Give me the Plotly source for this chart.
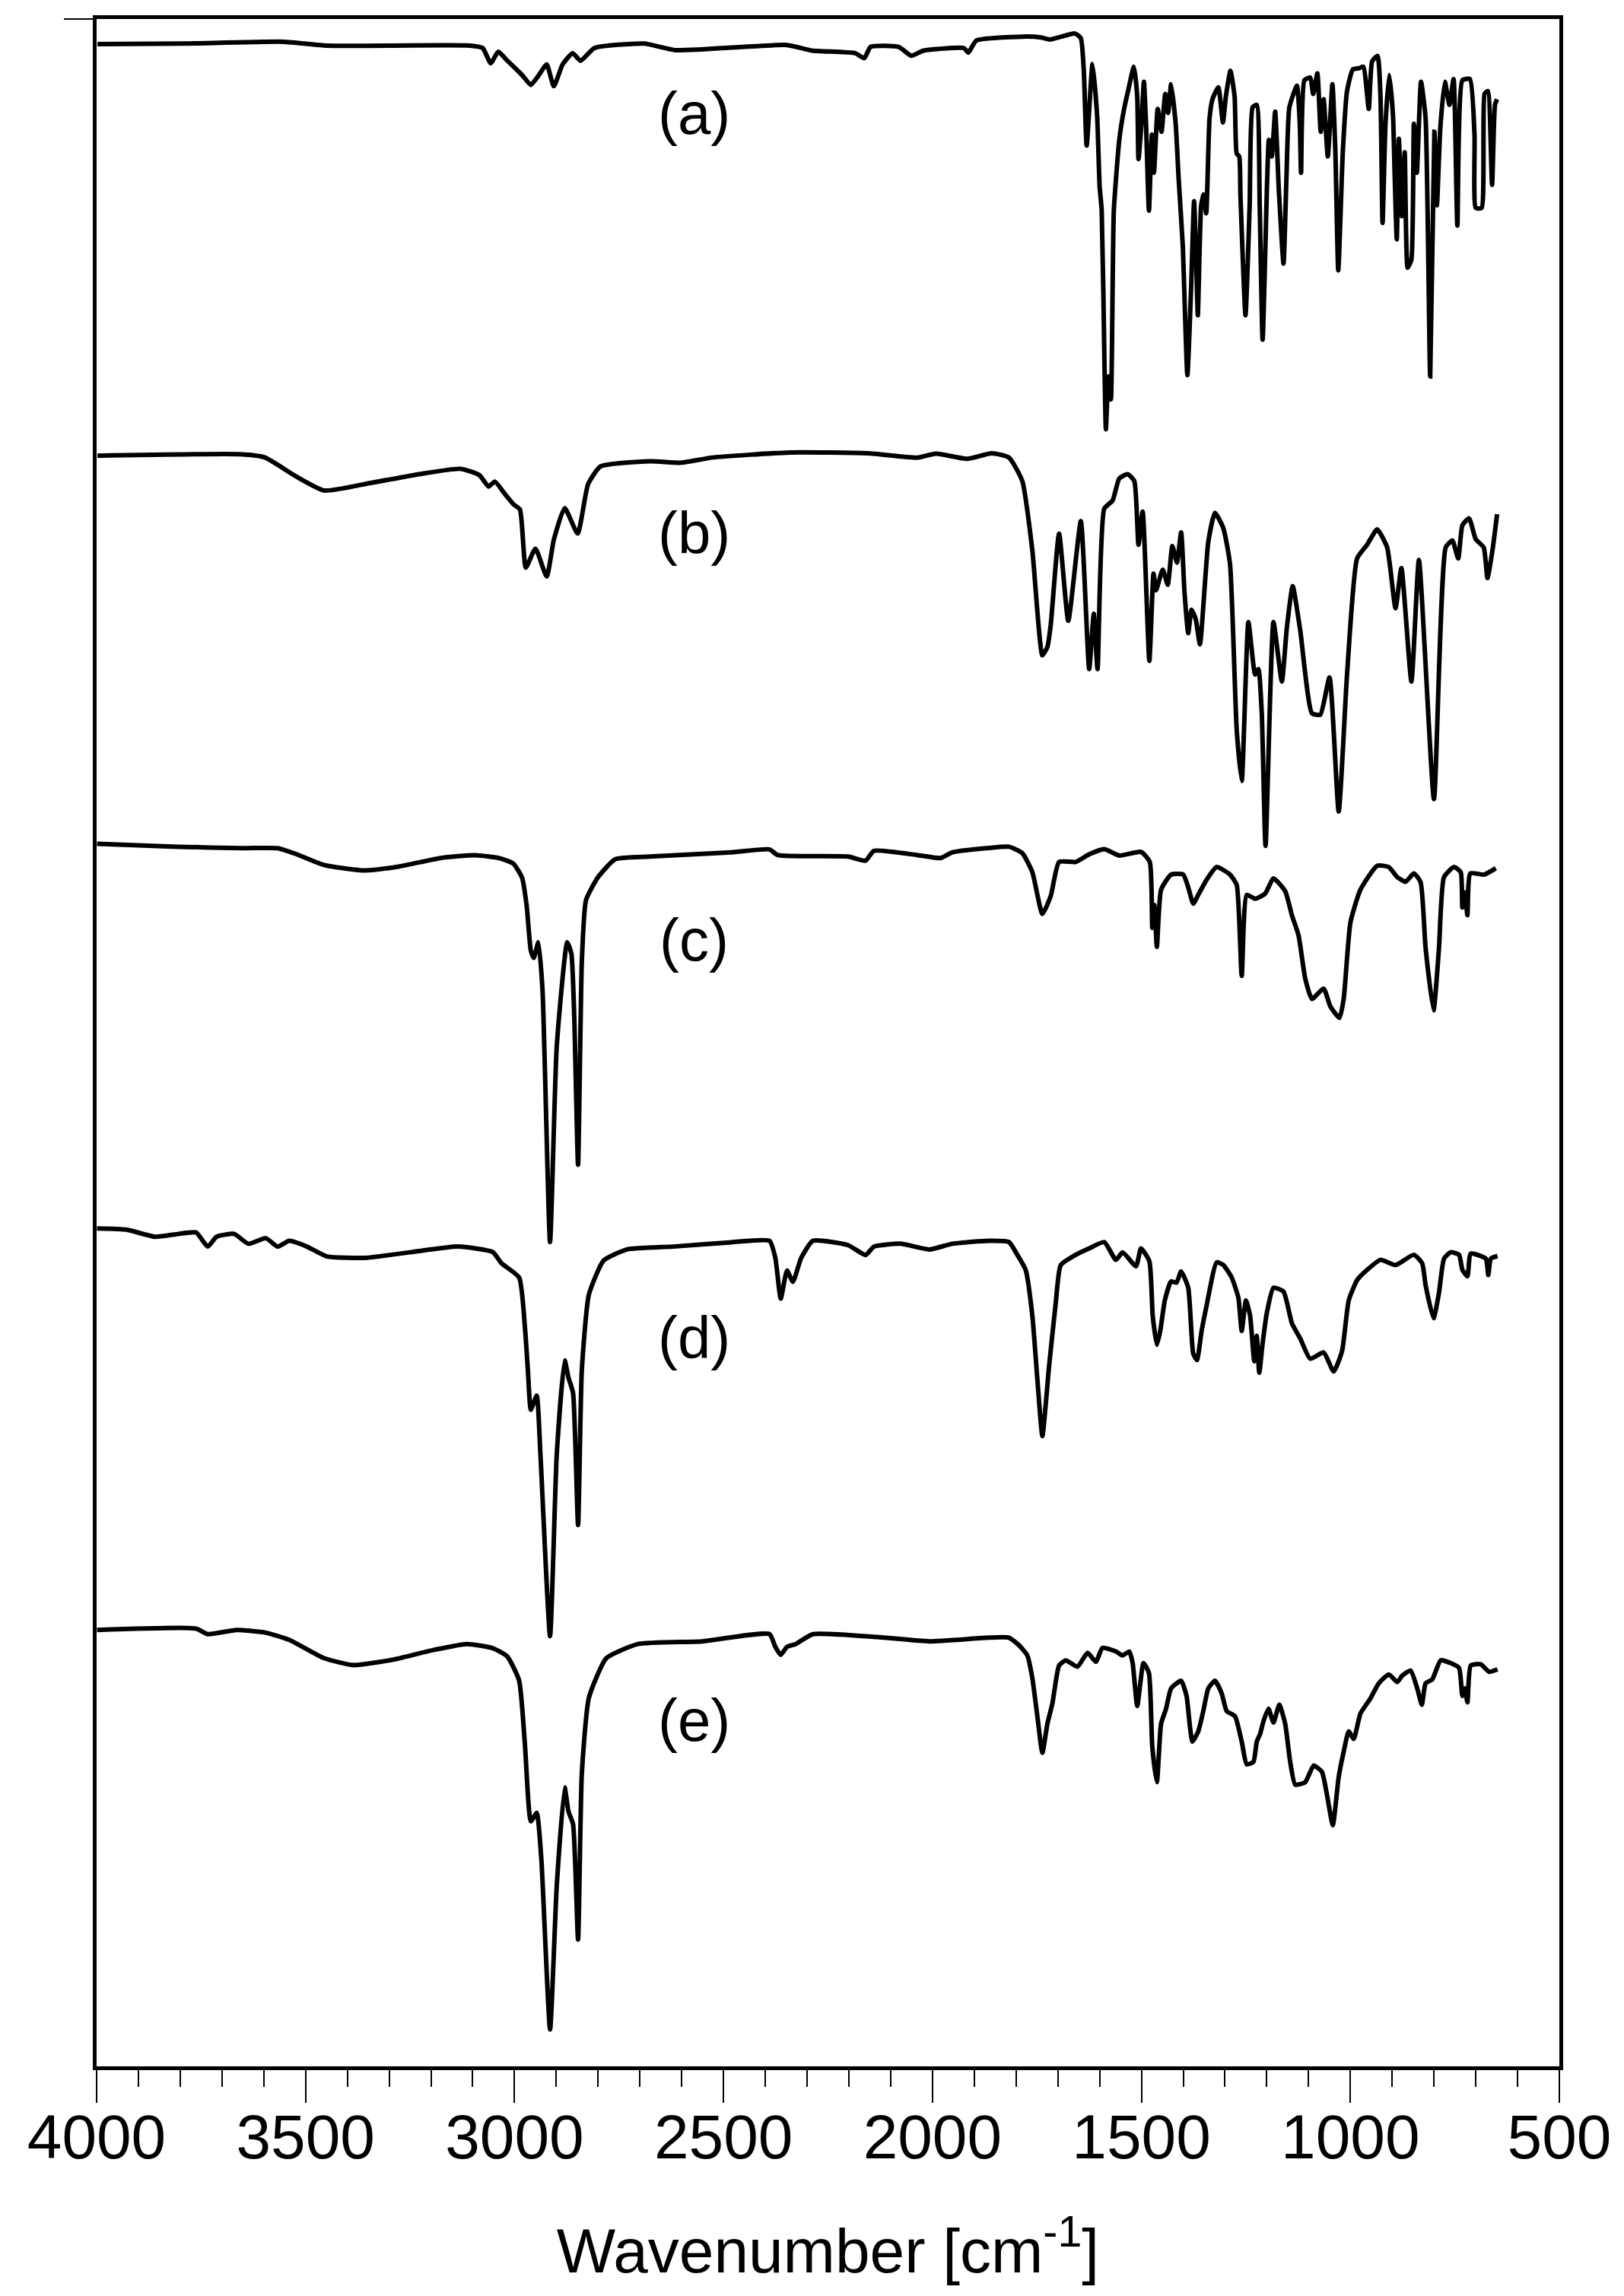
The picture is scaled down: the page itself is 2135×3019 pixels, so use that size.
import plotly.graph_objects as go

# FTIR spectra, stacked (transmittance, offset per curve)
wn_a = [3998, 3790, 3552, 3448, 3106, 3076, 3057, 3039, 3017, 2995, 2980, 2961, 2943, 2923, 2906, 2885,
        2861, 2842, 2809, 2690, 2616, 2348, 2289, 2185, 2163, 2148, 2081, 2051, 2021, 1925, 1914, 1895,
        1784, 1740, 1719, 1659, 1645, 1638, 1631, 1617, 1606, 1600, 1595, 1588, 1585, 1579, 1573, 1566,
        1553, 1542, 1532, 1518, 1510, 1507, 1500, 1494, 1489, 1482, 1475, 1470, 1461, 1452, 1443, 1436,
        1429, 1418, 1411, 1401, 1390, 1381, 1374, 1369, 1365, 1357, 1351, 1345, 1337, 1330, 1316, 1305,
        1298, 1287, 1277, 1272, 1266, 1263, 1251, 1241, 1234, 1224, 1217, 1210, 1199, 1195, 1188, 1180,
        1171, 1160, 1153, 1146, 1128, 1121, 1118, 1110, 1096, 1089, 1079, 1071, 1064, 1054, 1043, 1036,
        1029, 1018, 1008, 994, 979, 969, 956, 948, 935, 928, 923, 916, 907, 898, 894, 889,
        884, 877, 870, 863, 854, 848, 841, 831, 820, 809, 799, 793, 785, 774, 763, 753,
        744, 732, 714, 703, 700, 686, 679, 671, 661, 654, 649]
t_a = [98.77, 98.80, 98.89, 98.70, 98.70, 98.58, 97.84, 98.40, 97.96, 97.53, 97.22, 96.78, 97.22, 97.78, 96.72, 97.78,
       98.33, 97.96, 98.58, 98.80, 98.48, 98.73, 98.46, 98.33, 98.09, 98.64, 98.64, 98.21, 98.46, 98.58, 98.36, 98.95,
       99.14, 99.10, 99.00, 99.29, 99.06, 97.54, 93.82, 97.80, 95.28, 91.83, 90.64, 82.68, 79.96, 82.54, 81.42, 90.64,
       94.09, 95.55, 96.48, 97.67, 96.21, 93.16, 94.88, 96.94, 94.88, 90.64, 94.35, 92.49, 95.61, 94.49, 96.34, 95.41,
       96.81, 94.88, 92.23, 88.91, 82.61, 86.92, 91.10, 88.25, 85.53, 90.90, 91.43, 90.51, 95.15, 96.08, 96.67, 94.95,
       96.21, 97.47, 96.21, 93.42, 93.29, 91.37, 85.53, 90.90, 95.68, 95.81, 90.90, 84.34, 92.23, 94.09, 93.29, 95.48,
       91.57, 88.05, 92.23, 95.68, 96.74, 94.88, 92.49, 97.01, 97.14, 96.34, 97.34, 94.49, 96.08, 93.29, 96.81, 93.56,
       87.72, 93.56, 96.48, 97.54, 97.60, 97.67, 95.61, 97.93, 98.20, 96.21, 90.04, 94.88, 97.27, 95.28, 92.36, 89.24,
       94.15, 90.37, 93.49, 87.85, 88.25, 94.88, 92.49, 96.94, 95.15, 82.54, 94.49, 90.90, 94.62, 96.94, 95.81, 97.07,
       89.91, 97.01, 97.07, 94.35, 90.77, 90.77, 96.34, 96.48, 91.90, 95.81, 96.08]

wn_b = [3998, 3656, 3597, 3522, 3455, 3344, 3225, 3129, 3084, 3062, 3047, 3025, 3002, 2987, 2973, 2950,
        2923, 2906, 2880, 2849, 2824, 2794, 2675, 2601, 2527, 2341, 2155, 2036, 1992, 1917, 1858, 1817,
        1785, 1761, 1737, 1725, 1717, 1697, 1675, 1645, 1625, 1614, 1605, 1589, 1569, 1553, 1533, 1517,
        1507, 1497, 1481, 1471, 1465, 1449, 1437, 1426, 1415, 1405, 1397, 1388, 1380, 1370, 1360, 1340,
        1324, 1304, 1288, 1272, 1260, 1244, 1228, 1220, 1212, 1203, 1184, 1164, 1152, 1138, 1120, 1092,
        1072, 1050, 1028, 1008, 984, 960, 936, 912, 892, 878, 854, 836, 800, 772, 756, 742,
        732, 716, 700, 681, 672, 660, 649]
t_b = [78.67, 78.74, 78.58, 77.65, 76.97, 77.34, 77.78, 78.03, 77.72, 77.16, 77.41, 76.85, 76.29, 76.04, 73.20, 74.13,
       72.77, 74.56, 76.11, 74.87, 77.28, 78.15, 78.40, 78.33, 78.58, 78.83, 78.79, 78.58, 78.77, 78.52, 78.79, 78.58,
       77.43, 74.05, 68.92, 69.33, 70.41, 74.86, 70.61, 75.47, 68.25, 70.95, 68.25, 76.08, 76.48, 77.56, 77.77, 77.43,
       74.32, 75.94, 68.65, 72.91, 72.10, 73.11, 72.37, 74.26, 73.45, 74.93, 72.03, 70.00, 71.15, 70.68, 69.46, 74.46,
       75.88, 75.13, 73.38, 65.28, 62.78, 70.54, 67.98, 68.25, 66.09, 59.61, 70.54, 67.64, 70.27, 72.30, 70.14, 66.09,
       66.02, 67.84, 61.29, 67.98, 73.65, 74.32, 75.07, 74.19, 71.22, 73.18, 67.64, 73.58, 61.90, 74.19, 74.53, 73.65,
       75.27, 75.61, 74.59, 74.19, 72.70, 74.05, 75.81]

wn_c = [3999, 3804, 3651, 3567, 3525, 3456, 3358, 3275, 3177, 3094, 3038, 3003, 2982, 2971, 2961, 2954,
        2943, 2933, 2915, 2899, 2874, 2864, 2857, 2848, 2839, 2829, 2801, 2759, 2676, 2481, 2390, 2370,
        2202, 2160, 2140, 2035, 1980, 1952, 1865, 1817, 1785, 1761, 1737, 1717, 1697, 1657, 1625, 1589,
        1553, 1501, 1480, 1474, 1469, 1463, 1453, 1429, 1400, 1388, 1376, 1364, 1344, 1320, 1288, 1272,
        1260, 1248, 1228, 1204, 1184, 1156, 1140, 1124, 1108, 1092, 1064, 1048, 1026, 1016, 1000, 976,
        936, 908, 888, 868, 848, 832, 820, 801, 788, 776, 752, 736, 732, 726, 720, 713,
        680, 652]
t_c = [59.71, 59.57, 59.50, 59.50, 59.23, 58.68, 58.41, 58.61, 59.02, 59.16, 59.02, 58.75, 58.06, 56.69, 54.49, 54.14,
       54.90, 52.56, 40.26, 49.82, 54.90, 54.35, 51.19, 44.04, 53.94, 56.96, 58.06, 58.96, 59.09, 59.30, 59.44, 59.16,
       59.09, 58.89, 59.37, 59.16, 59.02, 59.30, 59.51, 59.57, 59.26, 58.33, 56.29, 57.16, 58.83, 58.83, 59.20, 59.45,
       59.14, 59.32, 58.83, 55.61, 56.72, 54.68, 57.47, 58.21, 58.21, 57.59, 56.79, 57.22, 57.96, 58.58, 58.21, 57.71,
       53.26, 57.22, 57.03, 57.28, 58.02, 57.40, 56.23, 55.24, 53.13, 52.14, 52.64, 51.77, 51.21, 52.14, 55.86, 57.47,
       58.64, 58.58, 58.09, 57.86, 58.27, 57.84, 54.62, 51.58, 54.62, 58.09, 58.58, 58.33, 56.60, 57.34, 56.23, 58.27,
       58.21, 58.52]

wn_d = [3999, 3929, 3860, 3804, 3762, 3734, 3713, 3671, 3637, 3595, 3567, 3539, 3497, 3449, 3358, 3247,
        3135, 3052, 3031, 2989, 2975, 2968, 2961, 2947, 2938, 2915, 2899, 2880, 2871, 2860, 2848, 2839,
        2822, 2787, 2731, 2620, 2481, 2390, 2376, 2363, 2348, 2334, 2314, 2286, 2202, 2160, 2140, 2077,
        2007, 1952, 1865, 1817, 1797, 1777, 1761, 1749, 1737, 1721, 1705, 1693, 1657, 1625, 1589, 1561,
        1545, 1513, 1501, 1481, 1473, 1463, 1455, 1444, 1429, 1416, 1405, 1388, 1376, 1367, 1356, 1344,
        1320, 1304, 1284, 1268, 1260, 1250, 1240, 1230, 1224, 1218, 1210, 1200, 1184, 1160, 1140, 1120,
        1096, 1064, 1040, 1020, 1004, 984, 960, 928, 892, 848, 828, 820, 801, 788, 776, 760,
        740, 732, 720, 712, 676, 670, 664, 648]
t_d = [40.93, 40.87, 40.52, 40.66, 40.73, 40.04, 40.52, 40.66, 40.18, 40.45, 40.04, 40.32, 40.04, 39.56, 39.49, 39.77,
       40.04, 39.77, 39.22, 38.53, 36.06, 33.99, 32.07, 32.76, 29.87, 21.01, 29.87, 34.48, 33.65, 32.89, 26.44, 34.00,
       37.70, 39.35, 39.90, 40.04, 40.25, 40.32, 39.49, 37.50, 38.87, 38.32, 39.49, 40.32, 40.11, 39.63, 40.04, 40.18,
       39.90, 40.18, 40.32, 40.26, 39.64, 38.90, 36.67, 33.57, 30.79, 34.19, 37.29, 39.14, 39.64, 39.95, 40.26, 39.39,
       39.76, 39.08, 39.95, 39.33, 36.67, 35.24, 35.92, 37.41, 38.34, 38.28, 38.83, 38.03, 34.81, 34.50, 35.92, 37.16,
       39.27, 39.14, 38.53, 37.54, 35.92, 37.41, 36.67, 34.44, 35.68, 33.88, 35.31, 36.79, 38.03, 37.84, 36.30, 35.55,
       34.56, 34.87, 33.94, 34.93, 37.41, 38.40, 38.90, 39.39, 39.14, 39.64, 39.21, 38.15, 36.54, 37.78, 39.45, 39.76,
       39.64, 38.90, 38.59, 39.70, 39.45, 38.65, 39.45, 39.58]

wn_e = [3999, 3762, 3734, 3665, 3595, 3539, 3456, 3386, 3289, 3191, 3114, 3052, 3017, 2989, 2975, 2961,
        2947, 2936, 2915, 2899, 2880, 2871, 2860, 2848, 2839, 2822, 2780, 2704, 2550, 2390, 2376, 2363,
        2348, 2327, 2286, 2133, 2007, 1865, 1817, 1793, 1773, 1761, 1749, 1737, 1725, 1713, 1697, 1681,
        1653, 1629, 1609, 1593, 1561, 1545, 1529, 1521, 1510, 1495, 1482, 1474, 1463, 1453, 1441, 1429,
        1405, 1392, 1384, 1378, 1364, 1352, 1340, 1324, 1308, 1296, 1276, 1260, 1248, 1232, 1224, 1216,
        1208, 1196, 1184, 1170, 1156, 1144, 1132, 1108, 1088, 1068, 1056, 1042, 1028, 1016, 1004, 992,
        976, 952, 932, 908, 888, 876, 856, 840, 829, 820, 804, 784, 760, 740, 732, 726,
        720, 712, 688, 668, 648]
t_e = [21.31, 21.38, 21.11, 21.31, 21.18, 20.83, 19.94, 19.60, 19.87, 20.35, 20.63, 20.42, 20.01, 18.84, 15.68, 11.97,
       12.38, 10.18, 1.80, 8.81, 13.62, 12.45, 11.83, 6.19, 14.30, 18.01, 19.94, 20.63, 20.76, 21.11, 20.49, 20.10,
       20.49, 20.63, 21.11, 20.97, 20.76, 20.94, 20.94, 20.57, 20.07, 18.96, 17.10, 15.31, 16.73, 17.72, 19.58, 19.83,
       19.52, 20.20, 19.76, 20.44, 20.26, 20.07, 20.26, 19.70, 17.60, 19.70, 19.21, 15.62, 13.88, 16.73, 17.47, 18.46,
       18.83, 18.09, 16.61, 15.86, 16.36, 17.35, 18.46, 18.83, 18.22, 17.35, 17.10, 15.86, 14.75, 14.87, 15.86, 16.23,
       16.85, 17.47, 16.79, 17.66, 16.73, 14.87, 13.76, 13.88, 14.69, 14.38, 13.26, 11.78, 14.13, 15.37, 16.36, 15.99,
       17.23, 17.97, 18.71, 19.14, 18.77, 19.08, 19.33, 18.46, 17.66, 18.71, 18.90, 19.83, 19.70, 19.46, 18.09, 18.46,
       17.78, 19.58, 19.64, 19.27, 19.39]

labels = ['(a)', '(b)', '(c)', '(d)', '(e)']
label_y = [95.4, 74.9, 55.0, 35.6, 16.9]
label_x = 2570

FONT = 'Liberation Sans, Arial, Helvetica, sans-serif'

fig = go.Figure()
for wn, t in [(wn_a, t_a), (wn_b, t_b), (wn_c, t_c), (wn_d, t_d), (wn_e, t_e)]:
    fig.add_trace(go.Scatter(x=wn, y=t, mode='lines',
                             line=dict(color='black', width=6, shape='spline', smoothing=0.5),
                             showlegend=False, hoverinfo='skip'))

for lab, ly in zip(labels, label_y):
    fig.add_annotation(x=label_x, y=ly, text=lab, showarrow=False,
                       font=dict(family=FONT, size=78, color='black'),
                       xanchor='center', yanchor='middle')

# the page body has an 8px default margin, so the figure is 8px smaller
fig.update_layout(
    width=2127, height=3011,
    margin=dict(l=119, r=85, t=17, b=302),
    paper_bgcolor='white', plot_bgcolor='white',
    font=dict(family=FONT, color='black'),
)
fig.update_xaxes(
    range=[4000, 500],
    tickvals=[4000, 3500, 3000, 2500, 2000, 1500, 1000, 500],
    ticks='outside', ticklen=43, tickwidth=2, tickcolor='black',
    minor=dict(dtick=100, ticks='outside', ticklen=22, tickwidth=2, tickcolor='black'),
    tickfont=dict(family=FONT, size=82),
    ticklabelstandoff=-25,
    showline=True, linewidth=5, linecolor='black', mirror=True,
    showgrid=False, zeroline=False,
    title=dict(text='Wavenumber [cm<sup>-1</sup>]', font=dict(family=FONT, size=82), standoff=78),
)
fig.update_yaxes(
    range=[0, 100],
    tickvals=[100], ticks='outside', ticklen=38, tickwidth=2, tickcolor='black',
    showticklabels=False,
    showline=True, linewidth=5, linecolor='black', mirror=True,
    showgrid=False, zeroline=False,
)

fig.write_html('out.html')
